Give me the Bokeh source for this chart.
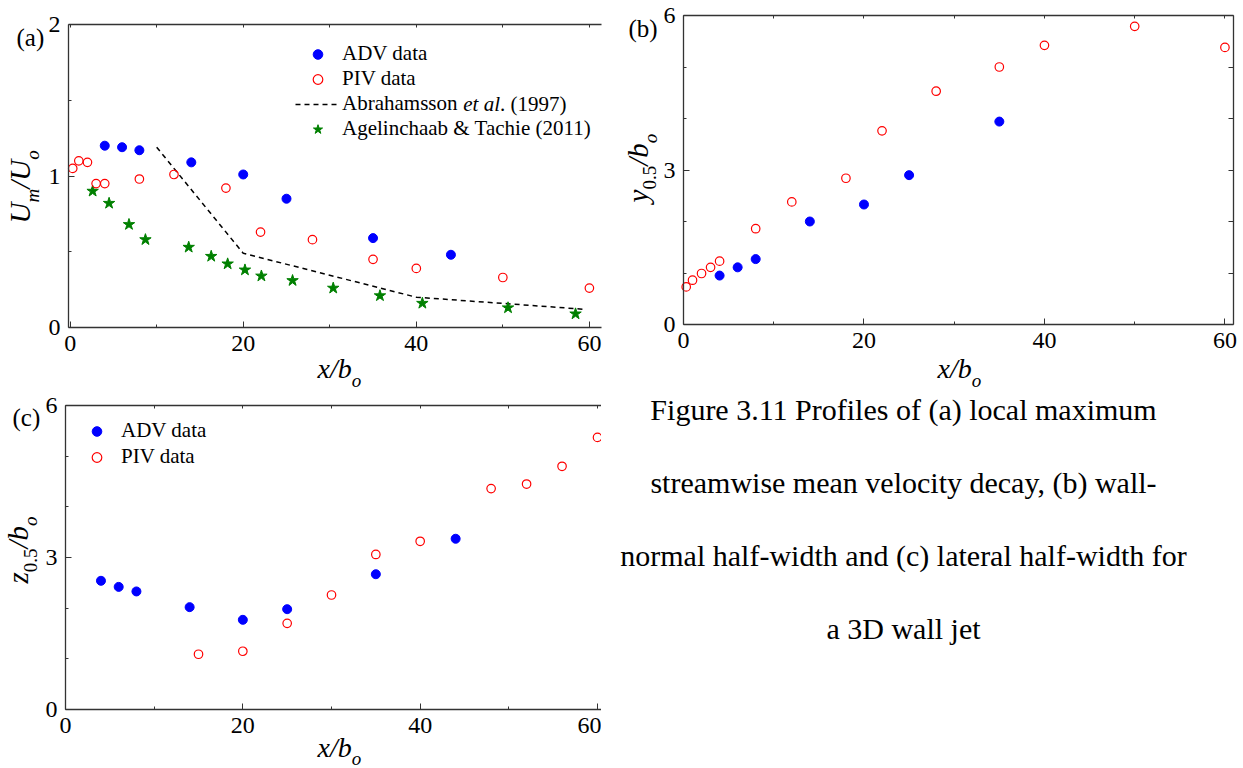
import math

from bokeh.embed import file_html
from bokeh.layouts import column, row
from bokeh.models import FixedTicker, Label, Legend, LegendItem, LinearAxis, Range1d
from bokeh.plotting import figure
from bokeh.resources import INLINE

SERIF = "Liberation Serif"
AXIS_INK = "#333333"
BLUE = "#0000ff"
RED = "#ff0000"
GREEN = "#008000"

# ---- (a) local maximum streamwise mean velocity decay, U_m/U_o ----
a_adv_x = [4, 6, 8, 14, 20, 25, 35, 44]
a_adv_u = [1.20, 1.19, 1.17, 1.09, 1.01, 0.85, 0.59, 0.48]
a_piv_x = [0.3, 1, 2, 3, 4, 8, 12, 18, 22, 28, 35, 40, 50, 60]
a_piv_u = [1.05, 1.10, 1.09, 0.95, 0.95, 0.98, 1.01, 0.92, 0.63, 0.58, 0.45, 0.39, 0.33, 0.26]
abr_x = [10, 20, 40, 59.5]
abr_u = [1.19, 0.49, 0.20, 0.12]
agl_x = [2.6, 4.5, 6.8, 8.7, 13.7, 16.3, 18.2, 20.2, 22.1, 25.7, 30.4, 35.8, 40.7, 50.6, 58.4]
agl_u = [0.90, 0.82, 0.68, 0.58, 0.53, 0.47, 0.42, 0.38, 0.34, 0.31, 0.26, 0.21, 0.16, 0.13, 0.09]

# ---- (b) wall-normal half-width, y_0.5/b_o ----
b_adv_x = [4, 6, 8, 14, 20, 25, 35]
b_adv_y = [0.95, 1.11, 1.27, 2.00, 2.33, 2.90, 3.94]
b_piv_x = [0.3, 1, 2, 3, 4, 8, 12, 18, 22, 28, 35, 40, 50, 60]
b_piv_y = [0.73, 0.86, 0.99, 1.11, 1.23, 1.86, 2.38, 2.84, 3.76, 4.53, 5.00, 5.42, 5.79, 5.38]

# ---- (c) lateral half-width, z_0.5/b_o ----
c_adv_x = [4, 6, 8, 14, 20, 25, 35, 44]
c_adv_z = [2.54, 2.42, 2.33, 2.02, 1.77, 1.98, 2.67, 3.37]
c_piv_x = [15, 20, 25, 30, 35, 40, 48, 52, 56, 60]
c_piv_z = [1.09, 1.15, 1.70, 2.26, 3.06, 3.32, 4.36, 4.45, 4.80, 5.37]

x_major = [0, 20, 40, 60]
x_minor = [10, 30, 50]
caption_lines = [
    "Figure 3.11 Profiles of (a) local maximum",
    "streamwise mean velocity decay, (b) wall-",
    "normal half-width and (c) lateral half-width for",
    "a 3D wall jet",
]

# advance widths (em) of Times-metric glyphs used in the axis titles
EM = {"x": 0.444, "/": 0.278, "b": 0.5, "U": 0.722, "y": 0.444, "z": 0.389,
      "m": 0.722, "o": 0.5, "0": 0.5, ".": 0.25, "5": 0.5}
# alphabetic-baseline labels come out this many em below the anchor
BASE_FIX = 0.37


def make_panel(w, h, left, right, top, bottom, xr, yr):
    """Figure whose frame fills the canvas; the axes box spans xr x yr and sits
    `left/right/top/bottom` pixels in from the canvas edges, so titles drawn in
    the margins stay inside the frame."""
    sx = (w - left - right) / (xr[1] - xr[0])
    sy = (h - top - bottom) / (yr[1] - yr[0])
    p = figure(width=w, height=h,
               x_range=Range1d(xr[0] - left / sx, xr[1] + right / sx),
               y_range=Range1d(yr[0] - bottom / sy, yr[1] + top / sy),
               x_axis_type=None, y_axis_type=None,
               output_backend="svg", toolbar_location=None,
               min_border=0, min_border_left=0, min_border_right=0,
               min_border_top=0, min_border_bottom=0)
    p.outline_line_color = None
    p.background_fill_color = "white"
    p.border_fill_color = "white"
    return p


def labelled_axis(ticks, minor, loc, bounds):
    ax = LinearAxis(ticker=FixedTicker(ticks=ticks, minor_ticks=minor),
                    fixed_location=loc, bounds=bounds)
    ax.axis_line_color = AXIS_INK
    ax.axis_line_width = 1.3
    ax.major_tick_in = 6
    ax.major_tick_out = 0
    ax.minor_tick_in = 3
    ax.minor_tick_out = 0
    ax.major_tick_line_color = AXIS_INK
    ax.minor_tick_line_color = AXIS_INK
    ax.major_label_standoff = 8
    ax.major_label_text_font = SERIF
    ax.major_label_text_font_size = "24px"
    ax.major_label_text_color = "black"
    return ax


def bare_axis(ticks, loc, bounds, tick_len=3):
    ax = LinearAxis(ticker=FixedTicker(ticks=[], minor_ticks=ticks),
                    fixed_location=loc, bounds=bounds)
    ax.axis_line_color = AXIS_INK
    ax.axis_line_width = 1.3
    ax.minor_tick_in = tick_len
    ax.minor_tick_out = 0
    ax.minor_tick_line_color = AXIS_INK
    ax.major_label_standoff = 0
    return ax


def rich_text(p, parts, x, y, vertical=False):
    """Axis title built from pieces; parts = (text, size_px, drop_px, style).
    (x, y) is the start of the main baseline in canvas pixels from bottom-left."""
    pos = 0.0
    for text, size, drop, style in parts:
        fix = BASE_FIX * size
        if vertical:
            lx, ly, ang = x + drop - fix, y + pos, math.pi / 2
        else:
            lx, ly, ang = x + pos, y - drop + fix, 0
        p.add_layout(Label(x=lx, y=ly, x_units="screen", y_units="screen", text=text,
                           angle=ang, text_font=SERIF, text_font_size=f"{size}px",
                           text_font_style=style, text_color="black",
                           text_align="left", text_baseline="alphabetic"))
        pos += sum(EM.get(c, 0.5) for c in text) * size


def tag(p, text, x, y):
    p.add_layout(Label(x=x, y=y + BASE_FIX * 25, x_units="screen", y_units="screen",
                       text=text, text_font=SERIF, text_font_size="25px",
                       text_color="black", text_align="left",
                       text_baseline="alphabetic"))


def x_title(p, x, y, drop=9):
    rich_text(p, [("x/b", 28, 0, "italic"), ("o", 19, drop, "italic")], x, y)


def style_legend(leg):
    leg.padding = 0
    leg.margin = 0
    leg.spacing = 0
    leg.glyph_width = 45
    leg.glyph_height = 24
    leg.label_height = 24
    leg.label_standoff = 2
    leg.border_line_color = None
    leg.background_fill_alpha = 0
    leg.label_text_font = SERIF
    leg.label_text_font_size = "21px"
    leg.label_text_color = "black"


# ------------------------------------------------------------------ (a)
A_X, A_Y = (-0.19, 61.4), (0, 2)
pa = make_panel(603, 390, 68, 2, 24, 63, A_X, A_Y)
pa.add_layout(labelled_axis(x_major, x_minor, 0, A_X), "below")
pa.add_layout(labelled_axis([0, 1, 2], [0.5, 1.5], A_X[0], A_Y), "left")
pa.add_layout(bare_axis(x_major + x_minor, A_Y[1], A_X), "above")

r_abr = pa.line(abr_x, abr_u, line_color="black", line_width=1.5, line_dash="5 4")
r_agl = pa.scatter(agl_x, agl_u, marker="star", size=12, fill_color=GREEN,
                   line_color=GREEN, line_width=1)
r_piv = pa.scatter(a_piv_x, a_piv_u, marker="circle", size=8.5, fill_color=None,
                   line_color=RED, line_width=1.2)
r_adv = pa.scatter(a_adv_x, a_adv_u, marker="circle", size=9, fill_color=BLUE,
                   line_color=BLUE)

LEG_A = (295, 249)
leg_a = Legend(items=[
    LegendItem(label="ADV data", renderers=[r_adv]),
    LegendItem(label="PIV data", renderers=[r_piv]),
    LegendItem(label="Abrahamsson", renderers=[r_abr]),
    LegendItem(label="Agelinchaab & Tachie (2011)", renderers=[r_agl]),
], location=LEG_A)
style_legend(leg_a)
pa.add_layout(leg_a)

# rest of the Abrahamsson entry: italic "et al" followed by the year
abr_text_x = LEG_A[0] + 45 + 2 + (5.499 + 0.25) * 21
abr_row_y = 287
pa.add_layout(Label(x=abr_text_x, y=abr_row_y, x_units="screen", y_units="screen",
                    text="et al", text_font=SERIF, text_font_size="21px",
                    text_font_style="italic", text_align="left",
                    text_baseline="middle", text_color="black"))
pa.add_layout(Label(x=abr_text_x + 1.75 * 21, y=abr_row_y, x_units="screen",
                    y_units="screen", text=". (1997)", text_font=SERIF,
                    text_font_size="21px", text_align="left",
                    text_baseline="middle", text_color="black"))

tag(pa, "(a)", 16, 344)
rich_text(pa, [("U", 29, 0, "italic"), ("m", 19, 9, "italic"), ("/U", 29, 0, "italic"),
               ("o", 19, 9, "italic")], 30, 167, vertical=True)
x_title(pa, 317, 12)

# ------------------------------------------------------------------ (c)
C_X, C_Y = (0, 60.45), (0, 6)
pc = make_panel(601, 378, 65, 0, 15, 59, C_X, C_Y)
pc.add_layout(labelled_axis(x_major, x_minor, 0, C_X), "below")
pc.add_layout(labelled_axis([0, 3, 6], [1, 2, 4, 5], C_X[0], C_Y), "left")
pc.add_layout(bare_axis(x_major + x_minor, C_Y[1], C_X), "above")

rc_piv = pc.scatter(c_piv_x, c_piv_z, marker="circle", size=8.5, fill_color=None,
                    line_color=RED, line_width=1.2)
rc_adv = pc.scatter(c_adv_x, c_adv_z, marker="circle", size=9, fill_color=BLUE,
                    line_color=BLUE)
leg_c = Legend(items=[
    LegendItem(label="ADV data", renderers=[rc_adv]),
    LegendItem(label="PIV data", renderers=[rc_piv]),
], location=(74, 299))
style_legend(leg_c)
leg_c.spacing = 1
pc.add_layout(leg_c)

tag(pc, "(c)", 12, 342)
rich_text(pc, [("z", 29, 0, "italic"), ("0.5", 19, 9, "normal"), ("/b", 29, 0, "italic"),
               ("o", 19, 9, "italic")], 28, 185, vertical=True)
x_title(pc, 317, 11, drop=8)

# ------------------------------------------------------------------ (b)
B_X, B_Y = (0, 60.95), (0, 6)
pb = make_panel(640, 392, 80, 10, 15, 68, B_X, B_Y)
pb.add_layout(labelled_axis(x_major, x_minor, 0, B_X), "below")
pb.add_layout(labelled_axis([0, 3, 6], [1, 2, 4, 5], B_X[0], B_Y), "left")
pb.add_layout(bare_axis(x_major + x_minor, B_Y[1], B_X), "above")
pb.add_layout(bare_axis([0, 1, 2, 3, 4, 5, 6], B_X[1], B_Y, tick_len=5), "right")

pb.scatter(b_piv_x, b_piv_y, marker="circle", size=8.5, fill_color=None,
           line_color=RED, line_width=1.2)
pb.scatter(b_adv_x, b_adv_y, marker="circle", size=9, fill_color=BLUE, line_color=BLUE)

tag(pb, "(b)", 25, 355)
rich_text(pb, [("y", 29, 0, "italic"), ("0.5", 19, 8, "normal"), ("/b", 29, 0, "italic"),
               ("o", 19, 9, "italic")], 45, 190, vertical=True)
x_title(pb, 334, 14)

# ------------------------------------------------------------------ caption
cap = figure(width=640, height=376, x_range=Range1d(0, 1), y_range=Range1d(0, 1),
             x_axis_type=None, y_axis_type=None, output_backend="svg",
             toolbar_location=None, min_border=0, min_border_left=0,
             min_border_right=0, min_border_top=0, min_border_bottom=0)
cap.outline_line_color = None
for i, line in enumerate(caption_lines):
    cap.add_layout(Label(x=300, y=359 - i * 73, x_units="screen", y_units="screen",
                         text=line, text_font=SERIF, text_font_size="30px",
                         text_color="black", text_align="center", text_baseline="middle"))

layout = row(column(pa, pc), column(pb, cap))

with open("out.html", "w") as f:
    f.write(file_html(layout, INLINE))
